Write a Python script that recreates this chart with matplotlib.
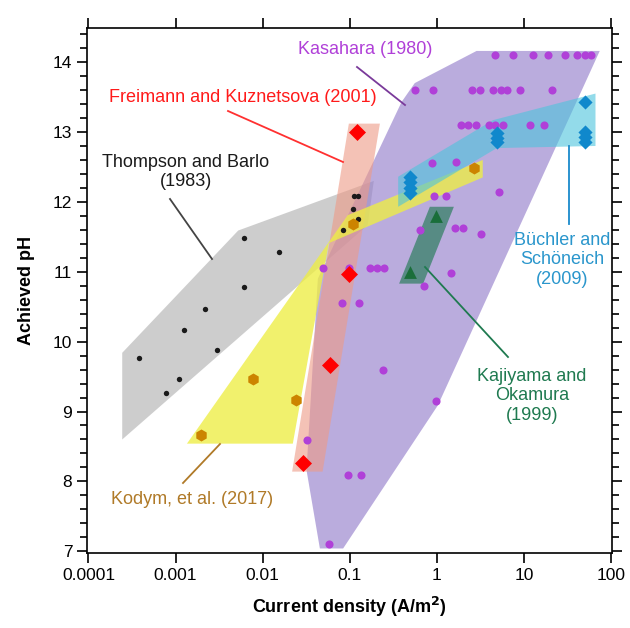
import matplotlib
matplotlib.use("Agg")
import matplotlib.pyplot as plt
from matplotlib.patches import Polygon
from matplotlib.ticker import MultipleLocator, NullLocator

plt.rcParams['font.family'] = ['Liberation Sans', 'DejaVu Sans']

# ---------------- data ----------------
# Thompson and Barlo (1983)
thompson_x = [0.0061, 0.0154, 0.0061, 0.0022, 0.00125, 0.0030, 0.00038, 0.00109, 0.00078,
              0.111, 0.123, 0.109, 0.123, 0.083]
thompson_y = [11.48, 11.28, 10.78, 10.46, 10.16, 9.88, 9.77, 9.47, 9.27,
              12.08, 12.08, 11.90, 11.76, 11.60]
thompson_poly_x = [0.000244, 0.000244, 0.00524, 0.189, 0.161]
thompson_poly_y = [8.60, 9.84, 11.59, 12.30, 11.67]

# Freimann and Kuznetsova (2001)
freimann_x = [0.122, 0.098, 0.059, 0.029]
freimann_y = [13.0, 10.97, 9.67, 8.27]
freimann_poly_x = [0.0977, 0.222, 0.0488, 0.0218]
freimann_poly_y = [13.12, 13.12, 8.14, 8.14]

# Kodym, et al. (2017)
kodym_x = [0.0078, 0.0243, 0.00194, 0.109, 2.66]
kodym_y = [9.47, 9.17, 8.67, 11.69, 12.48]
kodym_poly_x = [0.00135, 0.0222, 0.0575, 3.37, 3.37, 0.095]
kodym_poly_y = [8.54, 8.54, 11.41, 12.35, 12.60, 11.81]

# Kasahara (1980)
kasahara_x = [4.63, 7.40, 12.8, 19.0, 30.0, 41.2, 50.9, 59.7,
              0.569, 0.908, 2.54, 3.12, 4.43, 5.39, 6.48, 8.97, 21.3,
              1.92, 2.29, 2.80, 3.98, 4.67, 5.77, 11.9, 16.8,
              0.869, 1.65, 0.925, 1.29, 5.15,
              0.638, 1.61, 2.00, 3.20, 1.45, 0.714,
              0.0496, 0.0984, 0.170, 0.208, 0.245,
              0.0819, 0.127, 0.238, 0.0319, 0.0945, 0.135, 0.0575, 0.99]
kasahara_y = [14.1, 14.1, 14.1, 14.1, 14.1, 14.1, 14.1, 14.1,
              13.6, 13.6, 13.6, 13.6, 13.6, 13.6, 13.6, 13.6, 13.6,
              13.1, 13.1, 13.1, 13.1, 13.1, 13.1, 13.1, 13.1,
              12.56, 12.57, 12.08, 12.08, 12.14,
              11.60, 11.62, 11.62, 11.54, 10.98, 10.79,
              11.05, 11.05, 11.05, 11.05, 11.05,
              10.55, 10.55, 9.60, 8.59, 8.09, 8.09, 7.10, 9.15]
kasahara_poly_x = [0.0454, 0.084, 1.03, 74.3, 2.86, 0.558, 0.394, 0.043, 0.0319]
kasahara_poly_y = [7.04, 7.04, 9.09, 14.16, 14.16, 13.70, 13.43, 10.9, 8.16]

# Buechler and Schoeneich (2009)
buechler_x = [50.9, 50.9, 50.9, 50.9, 4.95, 4.95, 4.95, 0.49, 0.49, 0.49, 0.49]
buechler_y = [13.43, 13.00, 12.93, 12.86, 12.99, 12.92, 12.86, 12.36, 12.28, 12.20, 12.12]
buechler_poly_x = [0.360, 0.360, 4.43, 66.4, 66.4, 4.89]
buechler_poly_y = [11.93, 12.36, 13.17, 13.55, 12.80, 12.77]

# Kajiyama and Okamura (1999)
kajiyama_x = [0.975, 0.49]
kajiyama_y = [11.80, 10.99]
kajiyama_poly_x = [0.832, 1.57, 0.697, 0.369]
kajiyama_poly_y = [11.93, 11.93, 10.83, 10.83]

xticks = [0.0001, 0.001, 0.01, 0.1, 1, 10, 100]
xtick_labels = ['0.0001', '0.001', '0.01', '0.1', '1', '10', '100']
yticks = [7, 8, 9, 10, 11, 12, 13, 14]

# ---------------- figure ----------------
fig = plt.figure(figsize=(6.30, 6.28), dpi=100)
ax = fig.add_axes([0.138, 0.1194, 0.833, 0.8362])
ax.set_xscale('log')
ax.set_xlim(9.6e-5, 102)
ax.set_ylim(6.975, 14.49)

def poly(xs, ys, color, alpha, z):
    p = Polygon(list(zip(xs, ys)), closed=True, facecolor=color, edgecolor='none',
                alpha=alpha, zorder=z)
    ax.add_patch(p)

poly(thompson_poly_x, thompson_poly_y, '#bdbdbd', 0.75, 1)
poly(kasahara_poly_x, kasahara_poly_y, '#9680cc', 0.65, 2)
poly(freimann_poly_x, freimann_poly_y, '#ee9a86', 0.6, 3)
poly(kodym_poly_x, kodym_poly_y, '#eeee44', 0.78, 4)
poly(buechler_poly_x, buechler_poly_y, '#4cc4dc', 0.6, 5)
poly(kajiyama_poly_x, kajiyama_poly_y, '#2e7d5e', 0.7, 6)

ax.scatter(thompson_x, thompson_y, s=15, color='#1a1a1a', zorder=10, linewidths=0)
ax.scatter(kasahara_x, kasahara_y, s=34, color='#b040d8', zorder=10, linewidths=0)
ax.scatter(kodym_x, kodym_y, s=75, marker='h', color='#cc8400', zorder=11, linewidths=0)
ax.scatter(freimann_x, freimann_y, s=75, marker='D', color='#ff0000', zorder=12, linewidths=0)
ax.scatter(buechler_x, buechler_y, s=52, marker='D', color='#1088cc', zorder=12, linewidths=0)
ax.scatter(kajiyama_x, kajiyama_y, s=85, marker='^', color='#1a6e3a', zorder=12, linewidths=0)

# annotations
fs = 13
def pix2data(px, py):
    return ax.transData.inverted().transform((px, 628 - py))

fig.canvas.draw()

def leader(p0, p1, color):
    a = pix2data(*p0); b = pix2data(*p1)
    ax.plot([a[0], b[0]], [a[1], b[1]], color=color, lw=1.3, zorder=20, clip_on=False)

def label(px, py, text, color):
    fig.text(px / 630, 1 - py / 628, text, color=color, fontsize=fs,
             ha='center', va='center', linespacing=1.2)

label(365, 50, 'Kasahara (1980)', '#b040d8')
leader((357, 67), (405, 105), '#7a3a9a')

label(243, 98, 'Freimann and Kuznetsova (2001)', '#ff1a1a')
leader((228, 111), (343, 162), '#ff3030')

label(186, 172, 'Thompson and Barlo\n(1983)', '#1a1a1a')
leader((170, 199), (212, 259), '#444444')

label(192, 499, 'Kodym, et al. (2017)', '#b07a28')
leader((183, 483), (220, 444), '#b07a28')

label(532, 396, 'Kajiyama and\nOkamura\n(1999)', '#1f7a50')
leader((425, 267), (508, 357), '#1f7a50')

label(562, 260, 'Büchler and\nSchöneich\n(2009)', '#2a96cc')
leader((569, 146), (569, 224), '#1a8acc')

# axes styling
ax.set_xticks(xticks)
ax.set_xticklabels(xtick_labels)
ax.xaxis.set_minor_locator(NullLocator())
ax.set_yticks(yticks)
ax.yaxis.set_minor_locator(MultipleLocator(0.2))
ax.tick_params(which='both', direction='out', top=True, right=True, labeltop=False,
               labelright=False, labelsize=12.5, width=1.2, color='black')
ax.tick_params(which='major', length=7)
ax.tick_params(which='minor', length=5)
for sp in ax.spines.values():
    sp.set_linewidth(1.2)

ax.set_xlabel('Current density (A/m$^\\mathbf{2}$)', fontsize=13, fontweight='bold', labelpad=9)
ax.set_ylabel('Achieved pH', fontsize=13, fontweight='bold', labelpad=13)

fig.savefig('out.png', dpi=100)
